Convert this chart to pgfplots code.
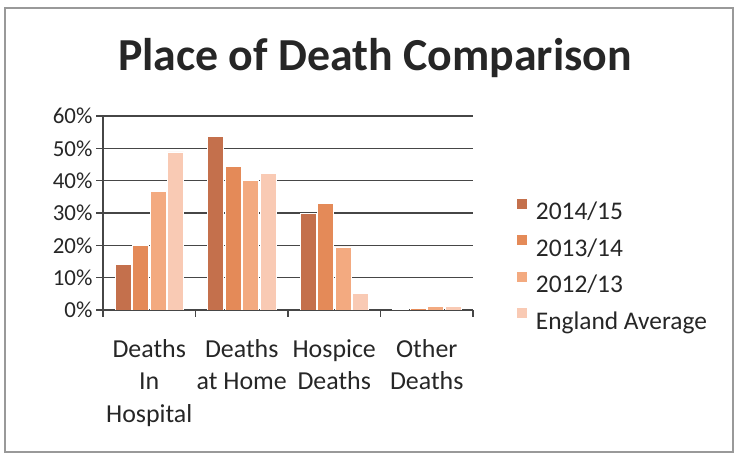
\documentclass[border=0pt]{standalone}
\usepackage{pgfplots}
\pgfplotsset{compat=1.18}
\usepackage{fontspec}
\setmainfont{Carlito}
\definecolor{cA}{RGB}{196,112,76}
\definecolor{cB}{RGB}{228,138,88}
\definecolor{cC}{RGB}{243,170,128}
\definecolor{cD}{RGB}{249,202,180}
\definecolor{gridc}{RGB}{70,70,70}
\begin{document}
\begin{tikzpicture}
\path[use as bounding box] (0bp,0bp) rectangle (736bp,454bp);
\draw[color=gray!80, line width=1.5bp] (5bp,2bp) rectangle (733bp,446bp);
\node[font=\fontsize{46}{50}\selectfont\bfseries, text=black!85] at (375bp,396bp) {Place of Death Comparison};
\begin{axis}[
  at={(149.25bp,144bp)}, anchor=origin,
  scale only axis, width=370bp, height=194bp,
  xmin=-0.5, xmax=3.5, ymin=0, ymax=60,
  axis x line=bottom, axis y line=left,
  axis line style={gridc, line width=1.3bp, -},
  ybar=1.5bp, bar width=16bp,
  ytick={0,10,...,60},
  yticklabel={\pgfmathprintnumber{\tick}\%},
  /pgf/number format/assume math mode=true,
  ymajorgrids, grid style={gridc, line width=1.3bp},
  tick align=outside, major tick length=7bp,
  tick style={gridc, line width=1.3bp},
  yticklabel style={font=\fontsize{23}{27}\selectfont, text=black!85},
  xtick={0,1,2,3},
  xticklabels={{Deaths\\In\\Hospital},{Deaths\\at Home},{Hospice\\Deaths},{Other\\Deaths}},
  xticklabel style={font=\fontsize{26}{32.5}\selectfont, align=center, text=black!85, yshift=-19bp},
  major x tick style={draw=none},
  extra x ticks={-0.5,0.5,1.5,2.5,3.5},
  extra x tick labels={},
  extra x tick style={grid=none, major x tick style={draw=gridc}},
  legend style={at={(1.11,0.585)}, anchor=north west, draw=none, fill=none,
    font=\fontsize{25.5}{30}\selectfont, text=black!85, row sep=12bp},
  legend cell align=left,
  legend image code/.code={\fill[#1,draw=none] (0bp,3bp) rectangle (10bp,13bp);},
]
\addplot[fill=cA, draw=white, line width=0.6bp] coordinates {(0,14.2) (1,53.6) (2,30.0) (3,0.3)};
\addplot[fill=cB, draw=white, line width=0.6bp] coordinates {(0,19.9) (1,44.4) (2,33.0) (3,0.5)};
\addplot[fill=cC, draw=white, line width=0.6bp] coordinates {(0,36.6) (1,40.2) (2,19.5) (3,1.0)};
\addplot[fill=cD, draw=white, line width=0.6bp] coordinates {(0,48.9) (1,42.2) (2,5.2) (3,1.2)};
\legend{\hspace*{7bp}2014/15,\hspace*{7bp}2013/14,\hspace*{7bp}2012/13,\hspace*{7bp}England Average}
\end{axis}
\end{tikzpicture}
\end{document}
